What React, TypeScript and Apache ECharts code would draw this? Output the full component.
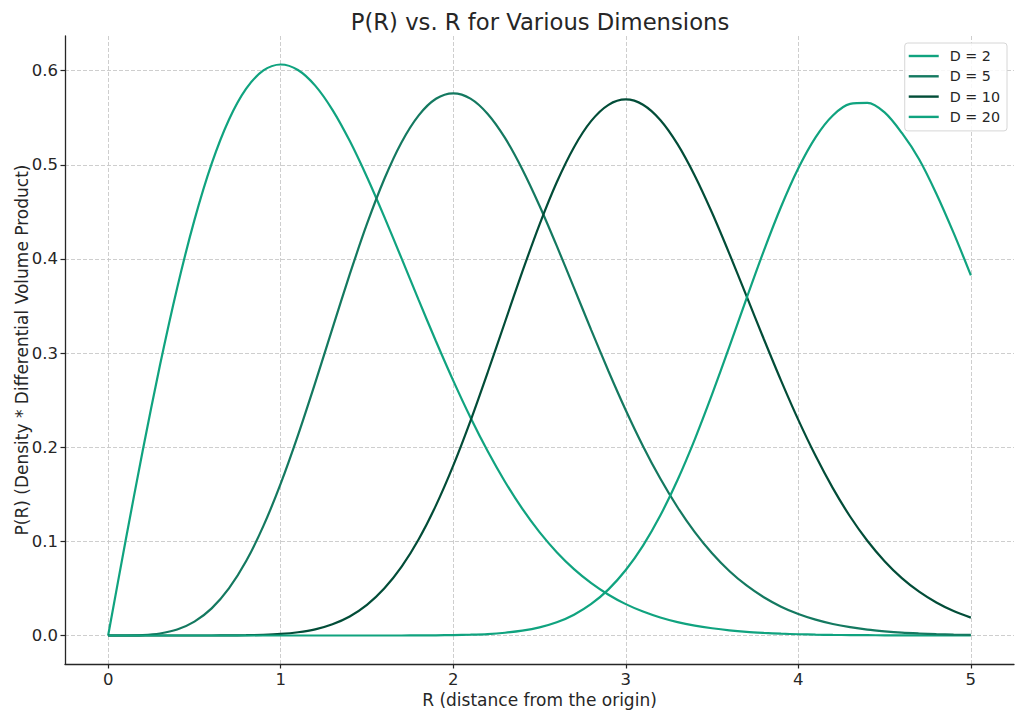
import React, { useEffect, useRef } from 'react';
import * as echarts from 'echarts';

// R values (distance from the origin)
const rValues = [
  0.0, 0.1, 0.2, 0.3, 0.4, 0.5, 0.6, 0.7, 0.8, 0.9,
  1.0, 1.1, 1.2, 1.3, 1.4, 1.5, 1.6, 1.7, 1.8, 1.9,
  2.0, 2.1, 2.2, 2.3, 2.4, 2.5, 2.6, 2.7, 2.8, 2.9,
  3.0, 3.1, 3.2, 3.3, 3.4, 3.5, 3.6, 3.7, 3.8, 3.9,
  4.0, 4.1, 4.2, 4.3, 4.4, 4.5, 4.6, 4.7, 4.8, 4.9,
  5.0,
];

const d2 = [
  0.0, 0.0995, 0.196, 0.2868, 0.3692, 0.4412, 0.5012, 0.5479, 0.5809, 0.6003,
  0.6065, 0.6007, 0.5841, 0.5584, 0.5254, 0.487, 0.4449, 0.4008, 0.3562, 0.3125,
  0.2707, 0.2315, 0.1956, 0.1633, 0.1347, 0.1098, 0.0885, 0.0705, 0.0556, 0.0433,
  0.0333, 0.0254, 0.0191, 0.0142, 0.0105, 0.0077, 0.0055, 0.0039, 0.0028, 0.0019,
  0.0013, 0.0009, 0.0006, 0.0004, 0.0003, 0.0002, 0.0001, 0.0001, 0.0, 0.0,
  0.0,
];

const d5 = [
  0.0, 0.0, 0.0004, 0.0021, 0.0063, 0.0147, 0.0288, 0.05, 0.0791, 0.1164,
  0.1613, 0.2126, 0.2684, 0.3263, 0.3835, 0.4371, 0.4846, 0.5237, 0.5525, 0.5701,
  0.5759, 0.5703, 0.554, 0.5285, 0.4953, 0.4565, 0.4138, 0.3692, 0.3244, 0.2807,
  0.2393, 0.2011, 0.1667, 0.1362, 0.1098, 0.0873, 0.0685, 0.0531, 0.0406, 0.0306,
  0.0228, 0.0168, 0.0122, 0.0088, 0.0062, 0.0044, 0.003, 0.0021, 0.0014, 0.0009,
  0.0006,
];

const d10 = [
  0.0, 0.0, 0.0, 0.0, 0.0, 0.0, 0.0, 0.0001, 0.0003, 0.0007,
  0.0016, 0.0034, 0.0065, 0.0119, 0.0202, 0.0325, 0.0498, 0.0728, 0.1022, 0.1382,
  0.1804, 0.228, 0.2796, 0.333, 0.3862, 0.4365, 0.4814, 0.5187, 0.5466, 0.5637,
  0.5694, 0.5638, 0.5476, 0.5219, 0.4884, 0.449, 0.4057, 0.3604, 0.3149, 0.2707,
  0.229, 0.1908, 0.1565, 0.1264, 0.1006, 0.0789, 0.0609, 0.0465, 0.035, 0.0259,
  0.019,
];

const d20 = [
  0.0, 0.0, 0.0, 0.0, 0.0, 0.0, 0.0, 0.0, 0.0, 0.0,
  0.0, 0.0, 0.0, 0.0, 0.0, 0.0, 0.0, 0.0, 0.0001, 0.0002,
  0.0004, 0.0008, 0.0015, 0.0029, 0.0051, 0.0086, 0.014, 0.0221, 0.0335, 0.049,
  0.0695, 0.0955, 0.1274, 0.1652, 0.2084, 0.256, 0.3065, 0.3582, 0.4086, 0.4554,
  0.4963, 0.5292, 0.5524, 0.5647, 0.5657, 0.5556, 0.5338, 0.5059, 0.4693, 0.4276,
  0.3826,
];

const seriesNames = ['D = 2', 'D = 5', 'D = 10', 'D = 20'];
const seriesValues = [d2, d5, d10, d20];
const seriesColors = ['#10a37f', '#147960', '#024d38', '#10a37f'];

const xTicks = [0, 1, 2, 3, 4, 5];
const yTicks = [0, 0.1, 0.2, 0.3, 0.4, 0.5, 0.6];

const FONT = '"DejaVu Sans", Verdana, sans-serif';
const INK = '#262626';

const App: React.FC = () => {
  const chartRef = useRef<HTMLDivElement>(null);

  useEffect(() => {
    if (!chartRef.current) return;
    const chart = echarts.init(chartRef.current, null, { renderer: 'svg' });

    const gridLine = {
      show: true,
      lineStyle: { color: '#c8c8c8', type: [4, 2] as number[], width: 0.9 },
    };

    const option: echarts.EChartsOption = {
      animation: false,
      backgroundColor: '#ffffff',
      textStyle: { fontFamily: FONT },
      title: {
        text: 'P(R) vs. R for Various Dimensions',
        left: 535,
        top: 5,
        textAlign: 'center',
        textStyle: { fontFamily: FONT, fontSize: 22.7, fontWeight: 'normal', color: INK },
      },
      legend: {
        orient: 'vertical',
        right: 17,
        top: 43,
        padding: [6, 7, 7, 4],
        icon: 'rect',
        itemWidth: 30,
        itemHeight: 2.4,
        itemGap: 6.3,
        borderColor: '#d6d6d6',
        borderWidth: 1,
        borderRadius: 3,
        backgroundColor: 'rgba(255,255,255,0.85)',
        data: seriesNames,
        textStyle: { fontFamily: FONT, fontSize: 14.3, color: INK, padding: [0, 0, 0, 6] },
      },
      grid: { left: 65, right: 10, top: 36, bottom: 55, containLabel: false, outerBoundsMode: 'none' } as any,
      xAxis: {
        type: 'value',
        min: -0.25,
        max: 5.25,
        name: 'R (distance from the origin)',
        nameLocation: 'middle',
        nameGap: 27,
        nameMoveOverlap: false,
        nameTextStyle: { fontFamily: FONT, fontSize: 17, color: INK },
        axisLine: { onZero: false, lineStyle: { color: INK, width: 1.3 } },
        axisTick: { show: true, customValues: xTicks, length: 4.5, lineStyle: { color: INK, width: 1.2 } },
        axisLabel: {
          customValues: xTicks,
          margin: 7,
          fontFamily: FONT,
          fontSize: 16.5,
          color: INK,
          formatter: (v: number) => String(v),
        },
        splitLine: gridLine,
      } as any,
      yAxis: {
        type: 'value',
        min: -0.0303,
        max: 0.6368,
        name: 'P(R) (Density * Differential Volume Product)',
        nameLocation: 'middle',
        nameGap: 35,
        nameMoveOverlap: false,
        nameTextStyle: { fontFamily: FONT, fontSize: 17, color: INK },
        axisLine: { show: true, onZero: false, lineStyle: { color: INK, width: 1.3 } },
        axisTick: { show: true, customValues: yTicks, length: 4.5, lineStyle: { color: INK, width: 1.2 } },
        axisLabel: {
          customValues: yTicks,
          margin: 7,
          fontFamily: FONT,
          fontSize: 16.5,
          color: INK,
          formatter: (v: number) => v.toFixed(1),
        },
        splitLine: gridLine,
      } as any,
      series: seriesNames.map((name, i) => ({
        name,
        type: 'line',
        symbol: 'none',
        smooth: 0.3,
        z: 2 + i,
        lineStyle: { color: seriesColors[i], width: 2.2 },
        itemStyle: { color: seriesColors[i] },
        data: rValues.map((r, j) => [r, seriesValues[i][j]]),
      })),
    };

    chart.setOption(option);
    return () => {
      chart.dispose();
    };
  }, []);

  return (
    <div
      ref={chartRef}
      style={{ position: 'fixed', left: 0, top: 0, width: '1024px', height: '719px' }}
    />
  );
};

export default App;
